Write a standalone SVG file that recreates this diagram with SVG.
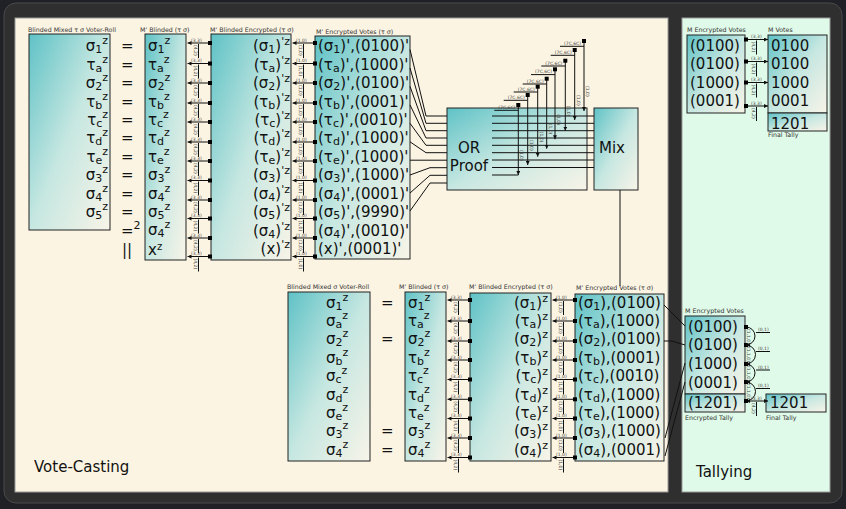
<svg xmlns="http://www.w3.org/2000/svg" width="846" height="509" viewBox="0 0 846 509">
<style>
text{font-family:"DejaVu Sans","Liberation Sans",sans-serif}
.m{font-size:15px;fill:#111}
.s{font-size:11px}
.ti{font-size:6.3px;fill:#333}
.lb{font-size:4.5px;fill:#444}
.big{font-size:15px;fill:#111}
.bx{fill:url(#gr);stroke:#222;stroke-width:1}
.ln{stroke:#111;stroke-width:1;fill:none}
.ar{stroke:#111;stroke-width:1;fill:none;marker-end:url(#ah)}
.e{text-anchor:end}
.c{text-anchor:middle}
</style>
<defs>
<linearGradient id="gr" x1="0" y1="0" x2="1" y2="1">
<stop offset="0" stop-color="#5fc2c6"/>
<stop offset="0.5" stop-color="#c6e7e1"/>
<stop offset="1" stop-color="#f8f4e8"/>
</linearGradient>
<marker id="ah" viewBox="0 0 6 6" refX="6" refY="3" markerWidth="4" markerHeight="4" markerUnits="userSpaceOnUse" orient="auto"><path d="M0,0L6,3L0,6z" fill="#111"/></marker>
<g id="cA">
<path class="ar" d="M24,0H1.5"/>
<rect x="22" y="-2" width="4" height="4"/>
<text class="lb" x="5" y="-1.2">(3,3)</text>
<text class="lb" transform="translate(8,2) rotate(90)">(4,2)</text>
<path class="ln" d="M12.5,1V15"/>
</g>
<g id="cB">
<path class="ar" d="M24,0H1.5"/>
<rect x="22" y="-2" width="4" height="4"/>
<text class="lb" x="5" y="-1.2">(1,0)</text>
<text class="lb" transform="translate(8,2) rotate(90)">(1,0)</text>
<path class="ln" d="M12.5,1V15"/>
</g>
<g id="cC">
<path class="ar" d="M0,0H22"/>
<rect x="-2" y="-2" width="4" height="4"/>
<text class="lb" x="5" y="-1.2">(3,3)</text>
<text class="lb" transform="translate(6,2) rotate(90)">(4,2)</text>
<path class="ln" d="M10.5,1V15"/>
</g>
<g id="cV">
<path class="ar" d="M0,0V70"/>
<rect x="-2" y="-2" width="4" height="4"/>
<text class="lb e" x="-3" y="3.8">(7C,6C)</text>
<path class="ln" d="M-24,5.3H0"/>
<text class="lb" transform="translate(2,45) rotate(90)">(1,0)</text>
</g>
</defs>

<rect width="846" height="509" fill="#1f2126"/>
<rect x="4" y="3" width="838" height="500" rx="12" fill="#2f2f30" stroke="#4a4a4a"/>
<rect id="panel-vote" x="15" y="18" width="653" height="474" fill="#fbf4e3" stroke="#9a9a9a"/>
<rect id="panel-tally" x="682" y="18" width="148" height="474" fill="#e0fae9" stroke="#9a9a9a"/>
<text class="big" x="34" y="472">Vote-Casting</text>
<text class="big" x="696" y="477">Tallying</text>

<!-- TOP: box1 -->
<g id="top-roll">
<text class="ti" x="28" y="32">Blinded Mixed τ σ Voter-Roll</text>
<rect class="bx" x="29" y="34" width="81" height="196"/>
<text class="m e" x="108" y="51">σ<tspan class="s" dy="2">1</tspan><tspan class="s" dy="-9">z</tspan></text>
<text class="m e" x="108" y="69.5">τ<tspan class="s" dy="2">a</tspan><tspan class="s" dy="-9">z</tspan></text>
<text class="m e" x="108" y="88">σ<tspan class="s" dy="2">2</tspan><tspan class="s" dy="-9">z</tspan></text>
<text class="m e" x="108" y="106.5">τ<tspan class="s" dy="2">b</tspan><tspan class="s" dy="-9">z</tspan></text>
<text class="m e" x="108" y="125">τ<tspan class="s" dy="2">c</tspan><tspan class="s" dy="-9">z</tspan></text>
<text class="m e" x="108" y="143">τ<tspan class="s" dy="2">d</tspan><tspan class="s" dy="-9">z</tspan></text>
<text class="m e" x="108" y="161.5">τ<tspan class="s" dy="2">e</tspan><tspan class="s" dy="-9">z</tspan></text>
<text class="m e" x="108" y="180">σ<tspan class="s" dy="2">3</tspan><tspan class="s" dy="-9">z</tspan></text>
<text class="m e" x="108" y="198.5">σ<tspan class="s" dy="2">4</tspan><tspan class="s" dy="-9">z</tspan></text>
<text class="m e" x="108" y="217">σ<tspan class="s" dy="2">5</tspan><tspan class="s" dy="-9">z</tspan></text>
</g>
<g id="top-eq">
<text class="m" x="121" y="51">=</text>
<text class="m" x="121" y="69.5">=</text>
<text class="m" x="121" y="88">=</text>
<text class="m" x="121" y="106.5">=</text>
<text class="m" x="121" y="125">=</text>
<text class="m" x="121" y="143">=</text>
<text class="m" x="121" y="161.5">=</text>
<text class="m" x="121" y="180">=</text>
<text class="m" x="121" y="198.5">=</text>
<text class="m" x="121" y="217">=</text>
<text class="m" x="121" y="235.5">=<tspan class="s" dy="-7">2</tspan></text>
<text class="m" x="122" y="255">||</text>
</g>
<g id="top-blinded">
<text class="ti" x="140" y="32">M' Blinded (τ σ)</text>
<rect class="bx" x="145" y="34" width="41" height="226"/>
<text class="m" x="148" y="51">σ<tspan class="s" dy="2">1</tspan><tspan class="s" dy="-9">z</tspan></text>
<text class="m" x="148" y="69.5">τ<tspan class="s" dy="2">a</tspan><tspan class="s" dy="-9">z</tspan></text>
<text class="m" x="148" y="88">σ<tspan class="s" dy="2">2</tspan><tspan class="s" dy="-9">z</tspan></text>
<text class="m" x="148" y="106.5">τ<tspan class="s" dy="2">b</tspan><tspan class="s" dy="-9">z</tspan></text>
<text class="m" x="148" y="125">τ<tspan class="s" dy="2">c</tspan><tspan class="s" dy="-9">z</tspan></text>
<text class="m" x="148" y="143">τ<tspan class="s" dy="2">d</tspan><tspan class="s" dy="-9">z</tspan></text>
<text class="m" x="148" y="161.5">τ<tspan class="s" dy="2">e</tspan><tspan class="s" dy="-9">z</tspan></text>
<text class="m" x="148" y="180">σ<tspan class="s" dy="2">3</tspan><tspan class="s" dy="-9">z</tspan></text>
<text class="m" x="148" y="198.5">σ<tspan class="s" dy="2">4</tspan><tspan class="s" dy="-9">z</tspan></text>
<text class="m" x="148" y="217">σ<tspan class="s" dy="2">5</tspan><tspan class="s" dy="-9">z</tspan></text>
<text class="m" x="148" y="235">σ<tspan class="s" dy="2">4</tspan><tspan class="s" dy="-9">z</tspan></text>
<text class="m" x="148" y="255">x<tspan dy="-5" style="font-size:10px">z</tspan></text>
</g>
<g id="top-blinded-enc">
<text class="ti" x="210" y="32">M' Blinded Encrypted (τ σ)</text>
<rect class="bx" x="211" y="34" width="80" height="226"/>
<text class="m e" x="290" y="51">(σ<tspan class="s" dy="2">1</tspan><tspan dy="-2">)</tspan><tspan class="s" dy="-6">'z</tspan></text>
<text class="m e" x="290" y="69.5">(τ<tspan class="s" dy="2">a</tspan><tspan dy="-2">)</tspan><tspan class="s" dy="-6">'z</tspan></text>
<text class="m e" x="290" y="88">(σ<tspan class="s" dy="2">2</tspan><tspan dy="-2">)</tspan><tspan class="s" dy="-6">'z</tspan></text>
<text class="m e" x="290" y="106.5">(τ<tspan class="s" dy="2">b</tspan><tspan dy="-2">)</tspan><tspan class="s" dy="-6">'z</tspan></text>
<text class="m e" x="290" y="125">(τ<tspan class="s" dy="2">c</tspan><tspan dy="-2">)</tspan><tspan class="s" dy="-6">'z</tspan></text>
<text class="m e" x="290" y="143">(τ<tspan class="s" dy="2">d</tspan><tspan dy="-2">)</tspan><tspan class="s" dy="-6">'z</tspan></text>
<text class="m e" x="290" y="161.5">(τ<tspan class="s" dy="2">e</tspan><tspan dy="-2">)</tspan><tspan class="s" dy="-6">'z</tspan></text>
<text class="m e" x="290" y="180">(σ<tspan class="s" dy="2">3</tspan><tspan dy="-2">)</tspan><tspan class="s" dy="-6">'z</tspan></text>
<text class="m e" x="290" y="198.5">(σ<tspan class="s" dy="2">4</tspan><tspan dy="-2">)</tspan><tspan class="s" dy="-6">'z</tspan></text>
<text class="m e" x="290" y="217">(σ<tspan class="s" dy="2">5</tspan><tspan dy="-2">)</tspan><tspan class="s" dy="-6">'z</tspan></text>
<text class="m e" x="290" y="235.5">(σ<tspan class="s" dy="2">4</tspan><tspan dy="-2">)</tspan><tspan class="s" dy="-6">'z</tspan></text>
<text class="m e" x="290" y="254">(x)<tspan class="s" dy="-6">'z</tspan></text>
</g>
<g id="top-enc-votes">
<text class="ti" x="316" y="34">M' Encrypted Votes (τ σ)</text>
<rect class="bx" x="315" y="36" width="95" height="223"/>
<text class="m" x="318" y="51">(σ<tspan class="s" dy="2">1</tspan><tspan dy="-2">)',(0100)'</tspan></text>
<text class="m" x="318" y="69.5">(τ<tspan class="s" dy="2">a</tspan><tspan dy="-2">)',(1000)'</tspan></text>
<text class="m" x="318" y="88">(σ<tspan class="s" dy="2">2</tspan><tspan dy="-2">)',(0100)'</tspan></text>
<text class="m" x="318" y="106.5">(τ<tspan class="s" dy="2">b</tspan><tspan dy="-2">)',(0001)'</tspan></text>
<text class="m" x="318" y="125">(τ<tspan class="s" dy="2">c</tspan><tspan dy="-2">)',(0010)'</tspan></text>
<text class="m" x="318" y="143">(τ<tspan class="s" dy="2">d</tspan><tspan dy="-2">)',(1000)'</tspan></text>
<text class="m" x="318" y="161.5">(τ<tspan class="s" dy="2">e</tspan><tspan dy="-2">)',(1000)'</tspan></text>
<text class="m" x="318" y="180">(σ<tspan class="s" dy="2">3</tspan><tspan dy="-2">)',(1000)'</tspan></text>
<text class="m" x="318" y="198.5">(σ<tspan class="s" dy="2">4</tspan><tspan dy="-2">)',(0001)'</tspan></text>
<text class="m" x="318" y="217">(σ<tspan class="s" dy="2">5</tspan><tspan dy="-2">)',(9990)'</tspan></text>
<text class="m" x="318" y="235.5">(σ<tspan class="s" dy="2">4</tspan><tspan dy="-2">)',(0010)'</tspan></text>
<text class="m" x="318" y="254">(x)',(0001)'</text>
</g>
<g id="or-proof">
<rect class="bx" x="447" y="108" width="140" height="82"/>
<text class="big c" x="469" y="153">OR</text>
<text class="big c" x="469" y="171">Proof</text>
</g>
<g id="mix">
<rect class="bx" x="594" y="108" width="44" height="82"/>
<text class="big" x="599" y="153">Mix</text>
</g>
<g id="top-tally-enc">
<text class="ti" x="687" y="32">M Encrypted Votes</text>
<rect class="bx" x="687" y="35" width="58" height="78"/>
<text class="m" x="690" y="51">(0100)</text>
<text class="m" x="690" y="69">(0100)</text>
<text class="m" x="690" y="87.5">(1000)</text>
<text class="m" x="690" y="105.5">(0001)</text>
</g>
<g id="top-tally-votes">
<text class="ti" x="768" y="32">M Votes</text>
<rect class="bx" x="768" y="35" width="59" height="78"/>
<text class="m" x="771" y="51">0100</text>
<text class="m" x="771" y="69">0100</text>
<text class="m" x="771" y="87.5">1000</text>
<text class="m" x="771" y="105.5">0001</text>
<rect class="bx" x="768" y="113" width="59" height="18"/>
<text class="m" x="771" y="128.5">1201</text>
<text class="ti" x="768" y="137">Final Tally</text>
</g>

<!-- BOTTOM -->
<g id="bot-roll">
<text class="ti" x="287" y="289">Blinded Mixed σ Voter-Roll</text>
<rect class="bx" x="288" y="292" width="82" height="169"/>
<text class="m" x="326" y="307.5">σ<tspan class="s" dy="2">1</tspan><tspan class="s" dy="-9">z</tspan></text>
<text class="m" x="326" y="325.9">σ<tspan class="s" dy="2">a</tspan><tspan class="s" dy="-9">z</tspan></text>
<text class="m" x="326" y="344.3">σ<tspan class="s" dy="2">2</tspan><tspan class="s" dy="-9">z</tspan></text>
<text class="m" x="326" y="362.7">σ<tspan class="s" dy="2">b</tspan><tspan class="s" dy="-9">z</tspan></text>
<text class="m" x="326" y="381.1">σ<tspan class="s" dy="2">c</tspan><tspan class="s" dy="-9">z</tspan></text>
<text class="m" x="326" y="399.5">σ<tspan class="s" dy="2">d</tspan><tspan class="s" dy="-9">z</tspan></text>
<text class="m" x="326" y="417.9">σ<tspan class="s" dy="2">e</tspan><tspan class="s" dy="-9">z</tspan></text>
<text class="m" x="326" y="436.3">σ<tspan class="s" dy="2">3</tspan><tspan class="s" dy="-9">z</tspan></text>
<text class="m" x="326" y="454.7">σ<tspan class="s" dy="2">4</tspan><tspan class="s" dy="-9">z</tspan></text>
</g>
<g id="bot-eq">
<text class="m" x="381" y="307.5">=</text>
<text class="m" x="381" y="344.3">=</text>
<text class="m" x="381" y="436.3">=</text>
<text class="m" x="381" y="454.7">=</text>
</g>
<g id="bot-blinded">
<text class="ti" x="399" y="289">M' Blinded (τ σ)</text>
<rect class="bx" x="405" y="292" width="41" height="169"/>
<text class="m" x="408" y="307.5">σ<tspan class="s" dy="2">1</tspan><tspan class="s" dy="-9">z</tspan></text>
<text class="m" x="408" y="325.9">τ<tspan class="s" dy="2">a</tspan><tspan class="s" dy="-9">z</tspan></text>
<text class="m" x="408" y="344.3">σ<tspan class="s" dy="2">2</tspan><tspan class="s" dy="-9">z</tspan></text>
<text class="m" x="408" y="362.7">τ<tspan class="s" dy="2">b</tspan><tspan class="s" dy="-9">z</tspan></text>
<text class="m" x="408" y="381.1">τ<tspan class="s" dy="2">c</tspan><tspan class="s" dy="-9">z</tspan></text>
<text class="m" x="408" y="399.5">τ<tspan class="s" dy="2">d</tspan><tspan class="s" dy="-9">z</tspan></text>
<text class="m" x="408" y="417.9">τ<tspan class="s" dy="2">e</tspan><tspan class="s" dy="-9">z</tspan></text>
<text class="m" x="408" y="436.3">σ<tspan class="s" dy="2">3</tspan><tspan class="s" dy="-9">z</tspan></text>
<text class="m" x="408" y="454.7">σ<tspan class="s" dy="2">4</tspan><tspan class="s" dy="-9">z</tspan></text>
</g>
<g id="bot-blinded-enc">
<text class="ti" x="469" y="289">M' Blinded Encrypted (τ σ)</text>
<rect class="bx" x="470" y="293" width="81" height="168"/>
<text class="m e" x="548" y="307.5">(σ<tspan class="s" dy="2">1</tspan><tspan dy="-2">)</tspan><tspan class="s" dy="-6">z</tspan></text>
<text class="m e" x="548" y="325.9">(τ<tspan class="s" dy="2">a</tspan><tspan dy="-2">)</tspan><tspan class="s" dy="-6">z</tspan></text>
<text class="m e" x="548" y="344.3">(σ<tspan class="s" dy="2">2</tspan><tspan dy="-2">)</tspan><tspan class="s" dy="-6">z</tspan></text>
<text class="m e" x="548" y="362.7">(τ<tspan class="s" dy="2">b</tspan><tspan dy="-2">)</tspan><tspan class="s" dy="-6">z</tspan></text>
<text class="m e" x="548" y="381.1">(τ<tspan class="s" dy="2">c</tspan><tspan dy="-2">)</tspan><tspan class="s" dy="-6">z</tspan></text>
<text class="m e" x="548" y="399.5">(τ<tspan class="s" dy="2">d</tspan><tspan dy="-2">)</tspan><tspan class="s" dy="-6">z</tspan></text>
<text class="m e" x="548" y="417.9">(τ<tspan class="s" dy="2">e</tspan><tspan dy="-2">)</tspan><tspan class="s" dy="-6">z</tspan></text>
<text class="m e" x="548" y="436.3">(σ<tspan class="s" dy="2">3</tspan><tspan dy="-2">)</tspan><tspan class="s" dy="-6">z</tspan></text>
<text class="m e" x="548" y="454.7">(σ<tspan class="s" dy="2">4</tspan><tspan dy="-2">)</tspan><tspan class="s" dy="-6">z</tspan></text>
</g>
<g id="bot-enc-votes">
<text class="ti" x="576" y="290">M' Encrypted Votes (τ σ)</text>
<rect class="bx" x="575" y="294" width="89" height="167"/>
<text class="m" x="578" y="307.5">(σ<tspan class="s" dy="2">1</tspan><tspan dy="-2">),(0100)</tspan></text>
<text class="m" x="578" y="325.9">(τ<tspan class="s" dy="2">a</tspan><tspan dy="-2">),(1000)</tspan></text>
<text class="m" x="578" y="344.3">(σ<tspan class="s" dy="2">2</tspan><tspan dy="-2">),(0100)</tspan></text>
<text class="m" x="578" y="362.7">(τ<tspan class="s" dy="2">b</tspan><tspan dy="-2">),(0001)</tspan></text>
<text class="m" x="578" y="381.1">(τ<tspan class="s" dy="2">c</tspan><tspan dy="-2">),(0010)</tspan></text>
<text class="m" x="578" y="399.5">(τ<tspan class="s" dy="2">d</tspan><tspan dy="-2">),(1000)</tspan></text>
<text class="m" x="578" y="417.9">(τ<tspan class="s" dy="2">e</tspan><tspan dy="-2">),(1000)</tspan></text>
<text class="m" x="578" y="436.3">(σ<tspan class="s" dy="2">3</tspan><tspan dy="-2">),(1000)</tspan></text>
<text class="m" x="578" y="454.7">(σ<tspan class="s" dy="2">4</tspan><tspan dy="-2">),(0001)</tspan></text>
</g>
<g id="bot-tally-enc">
<text class="ti" x="685" y="313">M Encrypted Votes</text>
<rect class="bx" x="685" y="316" width="60" height="78"/>
<text class="m" x="688" y="331.5">(0100)</text>
<text class="m" x="688" y="349.5">(0100)</text>
<text class="m" x="688" y="368.5">(1000)</text>
<text class="m" x="688" y="387.5">(0001)</text>
<rect class="bx" x="685" y="394" width="60" height="18"/>
<text class="m" x="688" y="408">(1201)</text>
<text class="ti" x="685" y="420">Encrypted Tally</text>
</g>
<g id="bot-final">
<rect class="bx" x="766" y="394" width="60" height="18"/>
<text class="m" x="770" y="408">1201</text>
<text class="ti" x="766" y="420">Final Tally</text>
</g>

<g id="connectors">
<use href="#cA" x="186" y="43"/><use href="#cA" x="186" y="63.5"/><use href="#cA" x="186" y="83"/><use href="#cA" x="186" y="103"/>
<use href="#cA" x="186" y="122"/><use href="#cA" x="186" y="142"/><use href="#cA" x="186" y="161"/><use href="#cA" x="186" y="180.5"/>
<use href="#cA" x="186" y="200"/><use href="#cA" x="186" y="218.5"/><use href="#cA" x="186" y="238"/><use href="#cA" x="186" y="256.5"/>
<use href="#cB" x="291" y="43"/><use href="#cB" x="291" y="63.5"/><use href="#cB" x="291" y="83"/><use href="#cB" x="291" y="103"/>
<use href="#cB" x="291" y="122"/><use href="#cB" x="291" y="142"/><use href="#cB" x="291" y="161"/><use href="#cB" x="291" y="180.5"/>
<use href="#cB" x="291" y="200"/><use href="#cB" x="291" y="218.5"/><use href="#cB" x="291" y="238"/><use href="#cB" x="291" y="256.5"/>

<path class="ln" d="M410,49.5L426,116H447M410,68L426,123.3H447M410,86.4L426,130.7H447M410,104.9L426,138H447M410,123.3L426,145.3H447M410,141.8L426,152.7H447M410,160.2H447M410,175L430,167.7H447M410,193L430,175.3H447M410,211L430,183H447"/>
<path class="ln" d="M492,116H594M492,123.3H594M492,130.7H594M492,138H594M492,145.3H594M492,152.7H594M492,160H594M492,167.5H594M492,175H518.3"/>
<use href="#cV" x="518.3" y="105"/><use href="#cV" x="527.7" y="95"/><use href="#cV" x="537.7" y="86.7"/><use href="#cV" x="546.7" y="78.7"/>
<use href="#cV" x="555" y="69.3"/><use href="#cV" x="565.3" y="60.7"/><use href="#cV" x="574.7" y="50"/><use href="#cV" x="584" y="41"/>
<path class="ln" d="M620,190V286"/>

<use href="#cC" x="746" y="39.5"/><use href="#cC" x="746" y="61.5"/><use href="#cC" x="746" y="82.5"/><use href="#cC" x="746" y="106"/>

<use href="#cA" x="446" y="300"/><use href="#cA" x="446" y="321"/><use href="#cA" x="446" y="341"/><use href="#cA" x="446" y="360"/>
<use href="#cA" x="446" y="379.5"/><use href="#cA" x="446" y="399.3"/><use href="#cA" x="446" y="418.5"/><use href="#cA" x="446" y="438"/><use href="#cA" x="446" y="457.5"/>
<use href="#cB" x="551" y="300"/><use href="#cB" x="551" y="321"/><use href="#cB" x="551" y="341"/><use href="#cB" x="551" y="360"/>
<use href="#cB" x="551" y="379.5"/><use href="#cB" x="551" y="399.3"/><use href="#cB" x="551" y="418.5"/><use href="#cB" x="551" y="438"/><use href="#cB" x="551" y="457.5"/>

<path class="ln" d="M664,305L685,326M664,341H672L685,345M665,438L685,363M665,456L685,382"/>

<g id="tally-arcs">
<rect x="744" y="325" width="4" height="4"/><rect x="744" y="343" width="4" height="4"/><rect x="744" y="362" width="4" height="4"/><rect x="744" y="380" width="4" height="4"/>
<path class="ar" d="M746,327A9,9 0 0 1 746,345"/>
<path class="ar" d="M746,345A9.5,9.5 0 0 1 746,364"/>
<path class="ar" d="M746,364A9,9 0 0 1 746,382"/>
<path class="ar" d="M746,382A9.5,9.5 0 0 1 746,401"/>
<text class="lb" x="758" y="331">(0,1)</text><path class="ln" d="M756,332.5H770"/>
<text class="lb" x="758" y="350">(0,1)</text><path class="ln" d="M756,351.5H770"/>
<text class="lb" x="758" y="368.5">(0,1)</text><path class="ln" d="M756,370H770"/>
<text class="lb" x="758" y="387">(0,1)</text><path class="ln" d="M756,388.5H770"/>
<text class="lb" transform="translate(747,329) rotate(90)">(1,1,0)</text>
<text class="lb" transform="translate(747,347) rotate(90)">(1,1,0)</text>
<text class="lb" transform="translate(747,366) rotate(90)">(1,1,0)</text>
<text class="lb" transform="translate(747,384) rotate(90)">(1,1,0)</text>
</g>
<use href="#cC" x="746" y="401"/>
</g>
</svg>
